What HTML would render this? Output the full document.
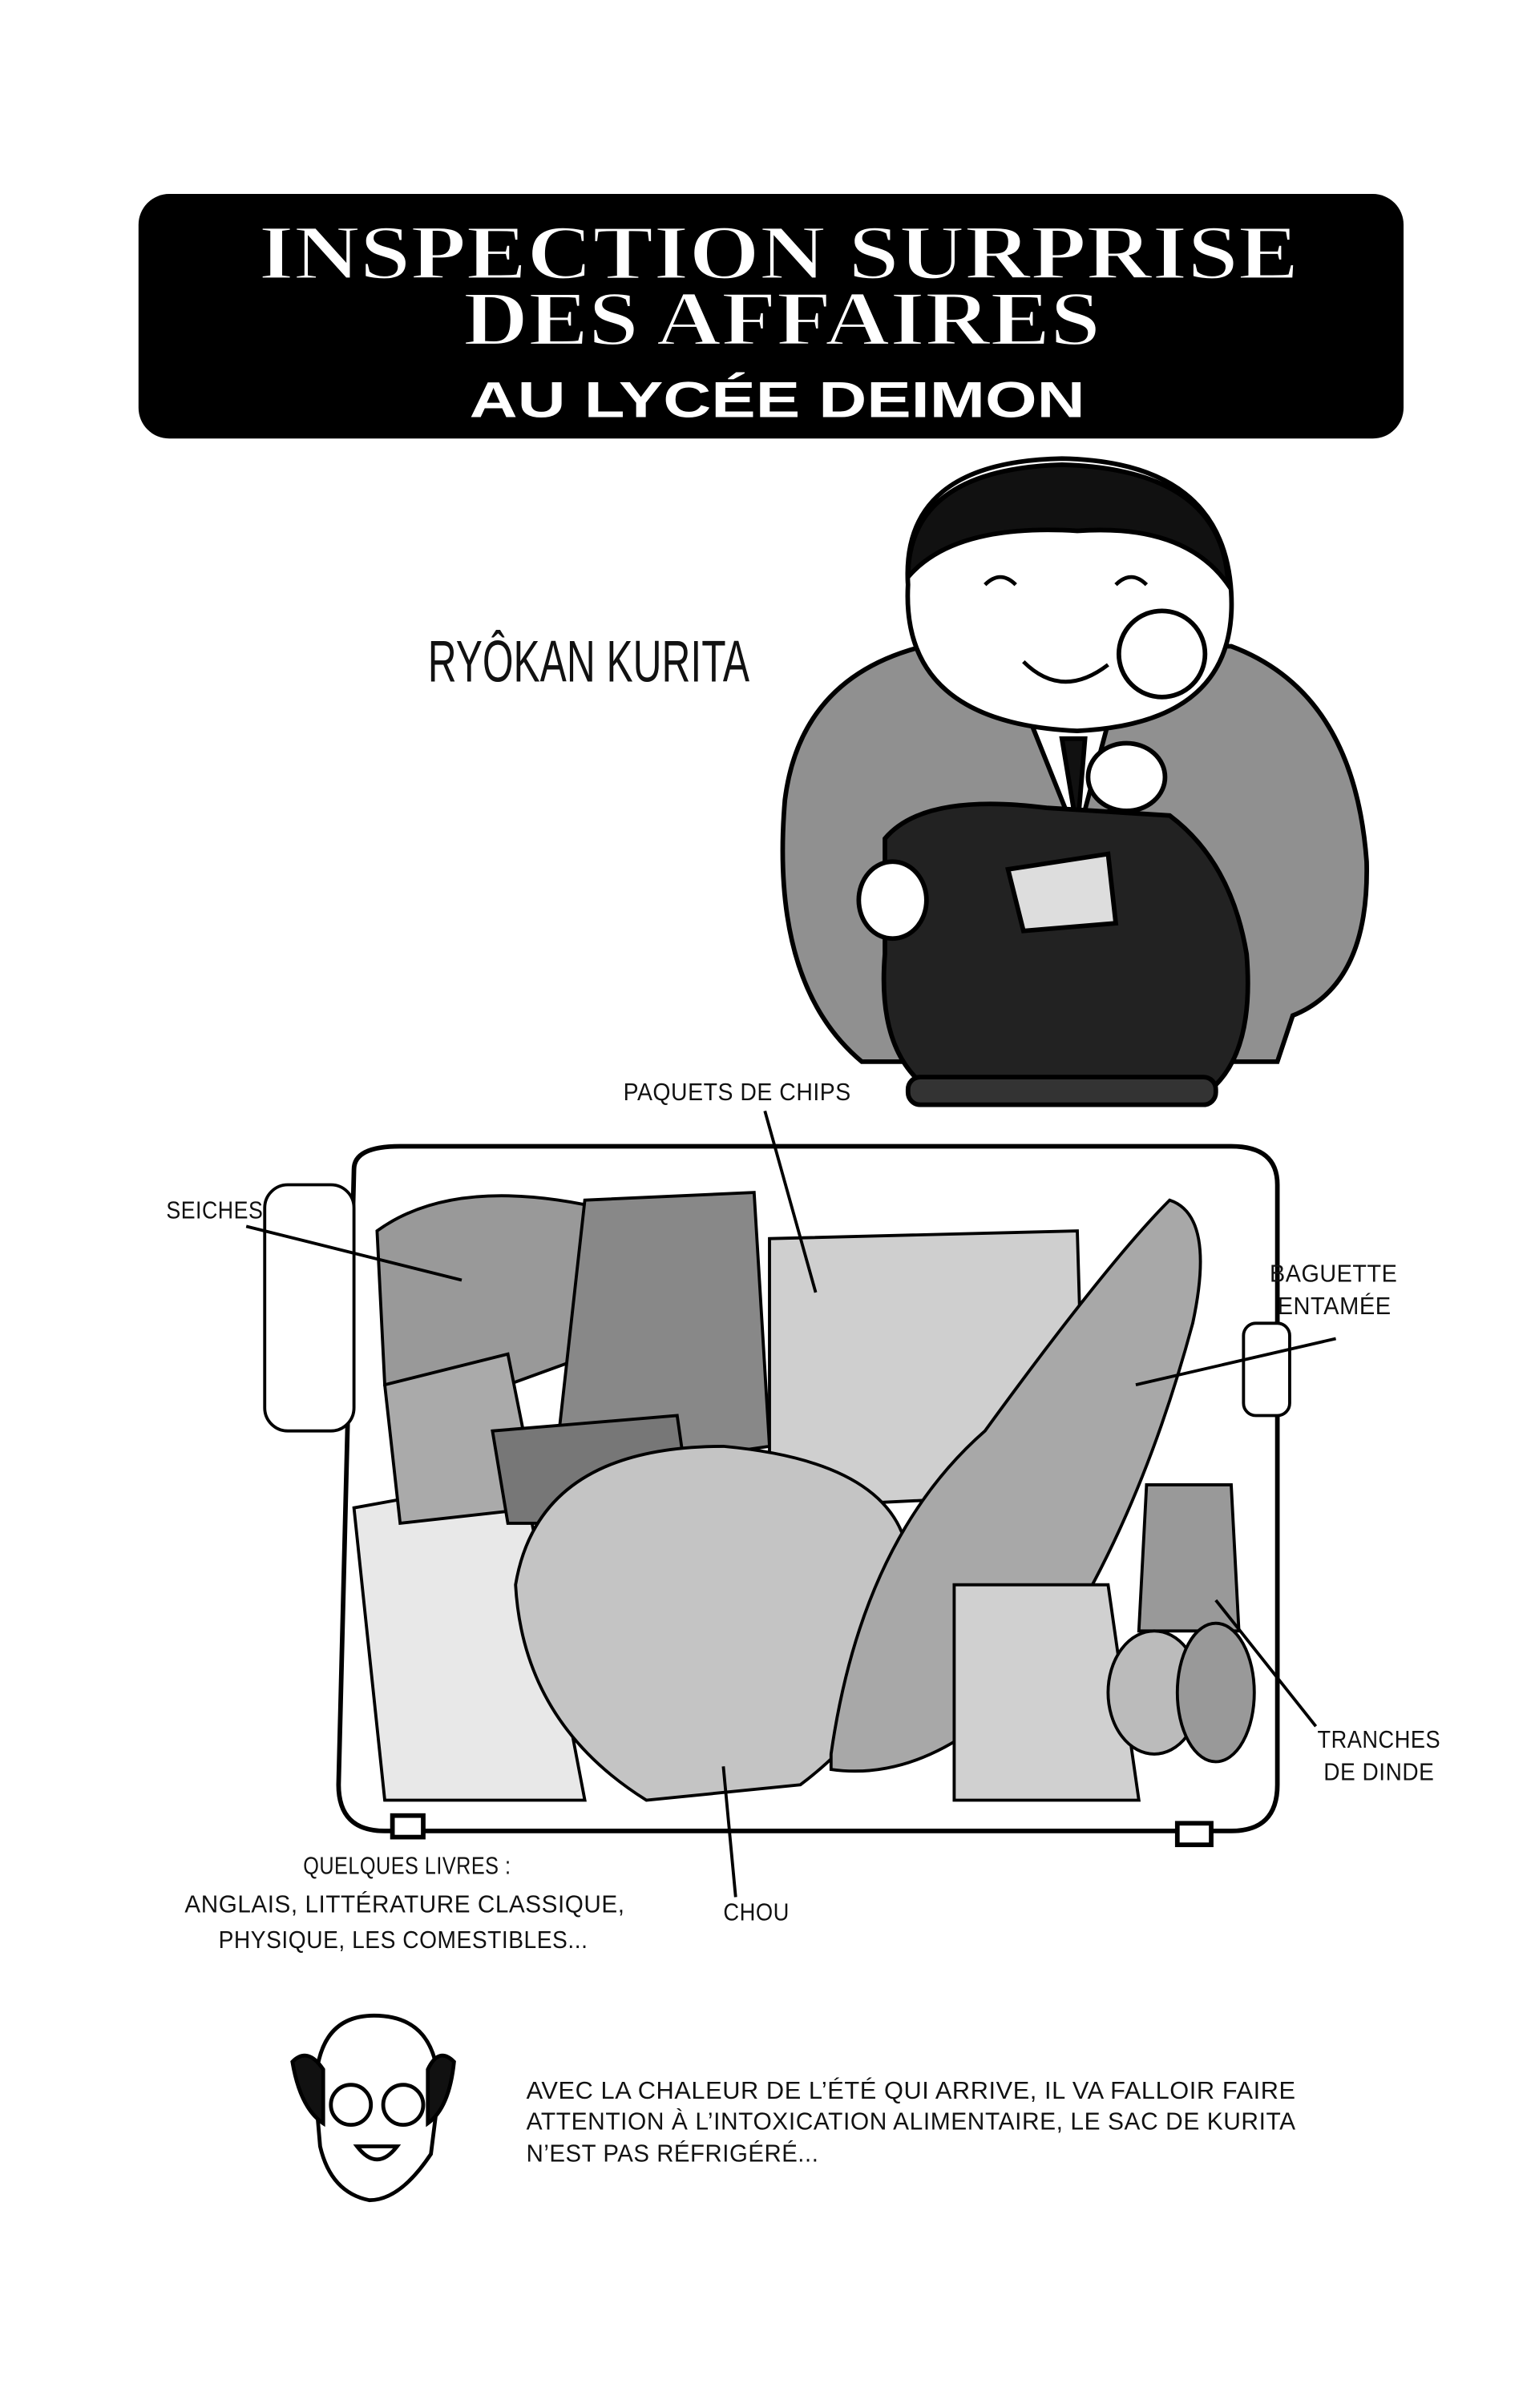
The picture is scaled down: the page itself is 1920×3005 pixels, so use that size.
<!DOCTYPE html>
<html><head><meta charset="utf-8"><style>
html,body{margin:0;padding:0;background:#fff;width:1920px;height:3005px;overflow:hidden}
svg{display:block}
.h{font-family:"Liberation Sans Narrow","Liberation Sans",sans-serif;font-size:16px;fill:#111;letter-spacing:0.3px}
</style></head><body>
<svg width="1920" height="3005" viewBox="0 0 1000 1565" xmlns="http://www.w3.org/2000/svg">
<rect width="1000" height="1565" fill="#fff"/>
<rect x="90" y="126" width="822" height="159" rx="20" fill="#000"/>
<g font-family="Liberation Serif,serif" font-weight="bold" fill="#fff" stroke="#000" stroke-width="1.2" text-anchor="middle">
<text x="506" y="181" font-size="50" textLength="676" lengthAdjust="spacingAndGlyphs">INSPECTION SURPRISE</text>
<text x="508" y="224" font-size="50" textLength="414" lengthAdjust="spacingAndGlyphs">DES AFFAIRES</text>
</g>
<text x="505" y="271" font-family="Liberation Sans,sans-serif" font-weight="bold" font-size="33" fill="#fff" text-anchor="middle" textLength="400" lengthAdjust="spacingAndGlyphs">AU LYCÉE DEIMON</text>
<text x="278" y="443" font-family="Liberation Sans Narrow,Liberation Sans,sans-serif" font-size="38" fill="#111" textLength="209" lengthAdjust="spacingAndGlyphs">RYÔKAN KURITA</text>
<g stroke="#000" stroke-width="3">
<path d="M510 520 Q520 440 600 420 L800 420 Q880 450 888 560 Q890 640 840 660 L830 690 L560 690 Q500 640 510 520Z" fill="#909090"/>
<path d="M670 470 L720 470 L700 545Z" fill="#fff"/>
<path d="M690 480 L705 480 L700 540Z" fill="#111"/>
<path d="M575 545 Q600 515 680 525 L760 530 Q800 560 810 620 Q815 680 790 705 L600 705 Q570 680 575 620Z" fill="#222"/>
<rect x="590" y="700" width="200" height="18" rx="8" fill="#333"/>
<path d="M655 565 L720 555 L725 600 L665 605Z" fill="#ddd"/>
<ellipse cx="580" cy="585" rx="22" ry="25" fill="#fff"/>
<ellipse cx="732" cy="505" rx="25" ry="22" fill="#fff"/>
<path d="M590 380 Q585 300 690 298 Q795 300 800 385 Q805 470 700 475 Q585 470 590 380Z" fill="#fff"/>
<path d="M590 375 Q590 305 690 302 Q795 305 798 380 Q770 340 700 345 Q620 340 590 375Z" fill="#111"/>
<path d="M640 380 Q650 370 660 380 M725 380 Q735 370 745 380" fill="none" stroke-width="2.5"/>
<path d="M665 430 Q690 455 720 432" fill="#fff" stroke-width="2.5"/>
<circle cx="755" cy="425" r="28" fill="#fff"/>
</g>
<g stroke="#000" stroke-width="3">
<path d="M230 760 Q230 745 260 745 L800 745 Q830 745 830 770 L830 1160 Q830 1190 800 1190 L250 1190 Q220 1190 220 1160Z" fill="#fff"/>
<rect x="172" y="770" width="58" height="160" rx="15" fill="#fff" stroke-width="2"/>
<rect x="808" y="860" width="30" height="60" rx="8" fill="#fff" stroke-width="2"/>
<rect x="255" y="1180" width="20" height="14" fill="#fff"/><rect x="765" y="1185" width="22" height="14" fill="#fff"/>
<path d="M245 800 Q300 760 410 790 L440 860 L330 900 L250 900Z" fill="#999" stroke-width="2"/>
<path d="M380 780 L490 775 L500 940 L360 960Z" fill="#888" stroke-width="2"/>
<path d="M500 805 L700 800 L705 970 L500 980Z" fill="#cfcfcf" stroke-width="2"/>
<path d="M230 980 L340 960 L380 1170 L250 1170Z" fill="#e8e8e8" stroke-width="2"/>
<path d="M250 900 L330 880 L350 980 L260 990Z" fill="#aaa" stroke-width="2"/>
<path d="M320 930 L440 920 L450 990 L330 990Z" fill="#777" stroke-width="2"/>
<path d="M335 1030 Q350 940 470 940 Q580 950 590 1010 Q600 1100 520 1160 L420 1170 Q340 1120 335 1030Z" fill="#c4c4c4" stroke-width="2"/>
<path d="M540 1140 Q560 1000 640 930 Q720 820 760 780 Q790 790 775 860 Q740 990 680 1080 Q610 1160 540 1150Z" fill="#a8a8a8" stroke-width="2"/>
<path d="M620 1030 L720 1030 L740 1170 L620 1170Z" fill="#d0d0d0" stroke-width="2"/>
<path d="M745 965 L800 965 L805 1060 L740 1060Z" fill="#999" stroke-width="2"/>
<ellipse cx="750" cy="1100" rx="30" ry="40" fill="#bbb" stroke-width="2"/>
<ellipse cx="790" cy="1100" rx="25" ry="45" fill="#999" stroke-width="2"/>
</g>
<g stroke="#000" stroke-width="2" fill="none">
<path d="M497 722 L530 840"/><path d="M160 797 L300 832"/><path d="M868 870 L738 900"/>
<path d="M855 1122 L790 1040"/><path d="M478 1233 L470 1148"/>
</g>
<text class="h" x="405" y="715" textLength="148" lengthAdjust="spacingAndGlyphs">PAQUETS DE CHIPS</text>
<text class="h" x="108" y="792" textLength="63" lengthAdjust="spacingAndGlyphs">SEICHES</text>
<text class="h" x="825" y="833" textLength="83" lengthAdjust="spacingAndGlyphs">BAGUETTE</text>
<text class="h" x="830" y="854" textLength="74" lengthAdjust="spacingAndGlyphs">ENTAMÉE</text>
<text class="h" x="856" y="1136" textLength="80" lengthAdjust="spacingAndGlyphs">TRANCHES</text>
<text class="h" x="860" y="1157" textLength="72" lengthAdjust="spacingAndGlyphs">DE DINDE</text>
<text class="h" x="197" y="1218" textLength="135" lengthAdjust="spacingAndGlyphs">QUELQUES LIVRES :</text>
<text class="h" x="120" y="1243" textLength="286" lengthAdjust="spacingAndGlyphs">ANGLAIS, LITTÉRATURE CLASSIQUE,</text>
<text class="h" x="142" y="1266" textLength="240" lengthAdjust="spacingAndGlyphs">PHYSIQUE, LES COMESTIBLES...</text>
<text class="h" x="470" y="1248" textLength="43" lengthAdjust="spacingAndGlyphs">CHOU</text>
<g stroke="#000" stroke-width="2.5" fill="#fff">
<path d="M205 1360 Q205 1310 243 1310 Q285 1310 285 1360 L280 1400 Q260 1430 240 1430 Q215 1425 208 1395Z"/>
<path d="M190 1340 Q200 1330 210 1345 L210 1380 Q195 1370 190 1340Z" fill="#111"/>
<path d="M295 1340 Q285 1330 278 1345 L278 1380 Q292 1370 295 1340Z" fill="#111"/>
<circle cx="228" cy="1368" r="13"/><circle cx="262" cy="1368" r="13"/>
<path d="M232 1395 Q245 1412 258 1395Z"/>
</g>
<text class="h" x="342" y="1364" textLength="500" lengthAdjust="spacingAndGlyphs">AVEC LA CHALEUR DE L’ÉTÉ QUI ARRIVE, IL VA FALLOIR FAIRE</text>
<text class="h" x="342" y="1384" textLength="500" lengthAdjust="spacingAndGlyphs">ATTENTION À L’INTOXICATION ALIMENTAIRE, LE SAC DE KURITA</text>
<text class="h" x="342" y="1405" textLength="190" lengthAdjust="spacingAndGlyphs">N’EST PAS RÉFRIGÉRÉ...</text>
</svg>
</body></html>
